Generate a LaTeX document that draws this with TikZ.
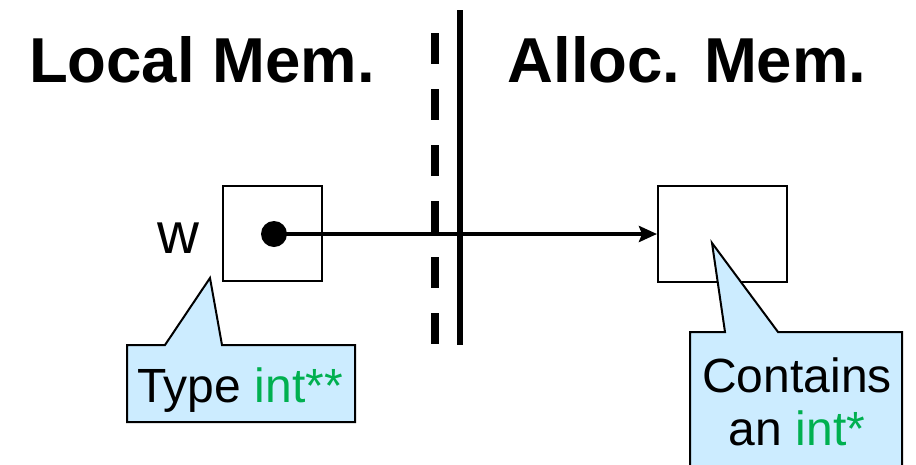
\documentclass[tikz,border=0pt]{standalone}
\usepackage{fontspec}
\setmainfont{Liberation Sans}
\usetikzlibrary{arrows.meta}
\definecolor{calloutblue}{RGB}{204,236,255}
\definecolor{typegreen}{RGB}{0,176,80}
\begin{document}
\begin{tikzpicture}[x=1pt,y=-1pt,
  title/.style={font=\fontsize{63.5}{63.5}\selectfont\bfseries, inner sep=0pt, anchor=base},
  label/.style={font=\fontsize{48}{53}\selectfont, inner sep=0pt, anchor=base, align=center},
  varname/.style={font=\fontsize{58}{58}\selectfont, inner sep=0pt, anchor=base},
  cell/.style={draw, line width=2pt, fill=white, inner sep=0pt},
  callout/.style={draw, line width=2pt, fill=calloutblue, line join=miter},
  divider/.style={line width=6.5pt},
  pointer/.style={line width=4.8pt, -{Stealth[length=18pt,width=16pt,inset=3pt]}}
]
\useasboundingbox (0,0) rectangle (916,464);
\clip (0,0) rectangle (916,464);

% headings
\node[title] (local) at (202,82) {Local Mem.};
\node[title] (alloc) at (687,82) {Alloc. Mem.};

% boundary between the two memory regions
\coordinate (dtop) at (435,33);
\coordinate (dbot) at (435,345);
\coordinate (stop) at (460,10);
\coordinate (sbot) at (460,345);
\draw[divider, line width=7.5pt, dash pattern=on 31pt off 25pt] (dtop) -- (dbot);
\draw[divider] (stop) -- (sbot);

% memory cells
\node[cell, minimum width=99pt, minimum height=95pt] (wbox) at (272.5,233.5) {};
\node[cell, minimum width=129pt, minimum height=96pt] (heap) at (722.5,234) {};
\node[varname] (w) at (178,253) {w};

% pointer from w into allocated memory
\node[circle, fill=black, inner sep=0pt, minimum size=26pt] (dot) at (274,234) {};
\draw[pointer] (dot.center) -- (heap.west);

% callouts
\draw[callout] (127,345) -- (165,345) -- (210,278) -- (222,345) -- (355,345)
  -- (355,422) -- (127,422) -- cycle;
\node[label] (wtype) at (240,402) {Type \textcolor{typegreen}{int**}};

\draw[callout] (690,332) -- (725,332) -- (712,243) -- (778,332) -- (902,332)
  -- (902,480) -- (690,480) -- cycle;
\node[label] (c1) at (797,392) {Contains};
\node[label] (c2) at (797,445) {an \textcolor{typegreen}{int*}};
\end{tikzpicture}
\end{document}
